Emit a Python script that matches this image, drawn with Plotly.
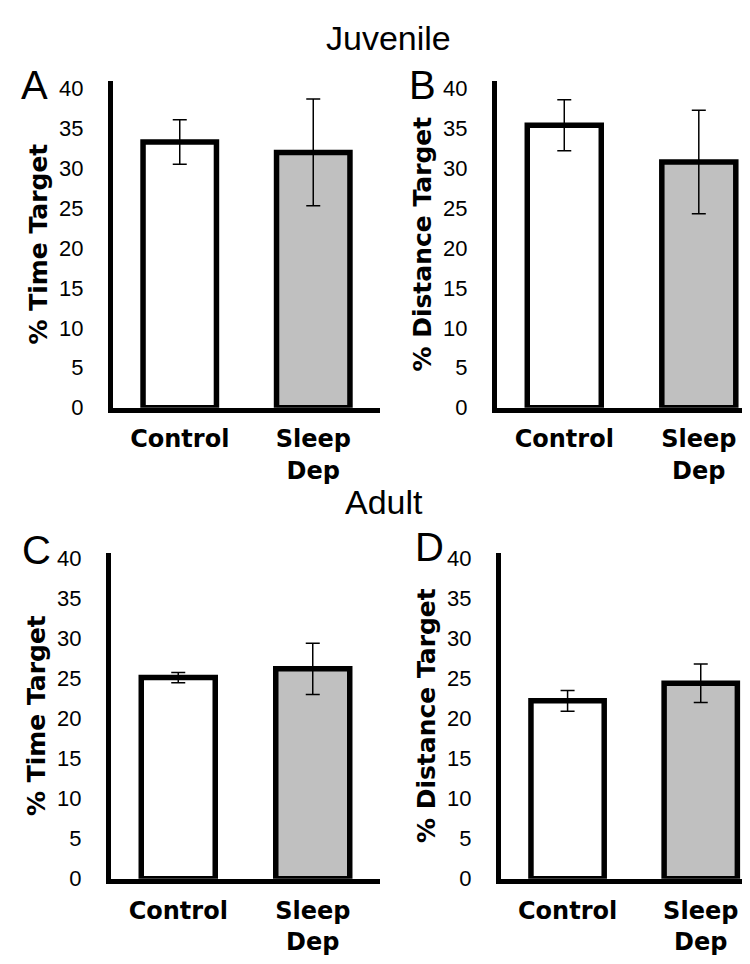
import plotly.graph_objects as go

W, H = 750, 964

categories = ["Control", "Sleep<br>Dep"]
bar_colors = ["#ffffff", "#c0c0c0"]
yticks = [0, 5, 10, 15, 20, 25, 30, 35, 40]

# Panel data (mean, error)
time_juv = [33.3, 32.0]
time_juv_err = [2.8, 6.7]
dist_juv = [35.4, 30.8]
dist_juv_err = [3.2, 6.5]
time_adult = [25.1, 26.2]
time_adult_err = [0.65, 3.2]
dist_adult = [22.2, 24.4]
dist_adult_err = [1.3, 2.4]

panels = [
    # values, errors, ytitle, x0px, x1px, xmax, y0px(bottom), y1px(top), ymax
    (time_juv, time_juv_err, "% Time Target", 105, 372, 1.5, 401, 67, 41.0),
    (dist_juv, dist_juv_err, "% Distance Target", 489, 750, 1.44, 401, 67, 41.0),
    (time_adult, time_adult_err, "% Time Target", 103, 372, 1.5, 882, 549, 40.7),
    (dist_adult, dist_adult_err, "% Distance Target", 493, 750, 1.43, 882, 549, 40.7),
]

fig = go.Figure()
layout = dict(
    width=W, height=H, margin=dict(l=0, r=0, t=0, b=0),
    paper_bgcolor="white", plot_bgcolor="white", showlegend=False,
    font=dict(family="Liberation Sans, Arial, sans-serif", color="black"),
)

for i, (vals, errs, ytitle, x0, x1, xmax, yb, yt, ymax) in enumerate(panels):
    n = "" if i == 0 else str(i + 1)
    fig.add_trace(go.Bar(
        x=[0, 1], y=vals,
        xaxis="x" + n, yaxis="y" + n,
        width=0.55,
        marker=dict(color=bar_colors, line=dict(color="black", width=5.5)),
        error_y=dict(type="data", array=errs, visible=True, color="black",
                     thickness=1.5, width=7),
    ))
    layout["xaxis" + n] = dict(
        domain=[x0 / W, x1 / W], range=[-0.5, xmax], anchor="y" + n,
        showline=True, linewidth=5, linecolor="black", ticks="",
        tickvals=[0, 1], ticktext=categories, showgrid=False, zeroline=False,
        tickfont=dict(family="DejaVu Sans", size=24, color="black", weight="bold"),
        ticklabelstandoff=6,
    )
    layout["yaxis" + n] = dict(
        domain=[(H - yb) / H, (H - yt) / H], range=[0, ymax], anchor="x" + n,
        showline=True, linewidth=5, linecolor="black", ticks="",
        tickvals=yticks, showgrid=False, zeroline=False,
        tickfont=dict(family="Liberation Sans", size=22, color="black"),
        ticklabelstandoff=20,
        title=dict(text=ytitle, standoff=6,
                   font=dict(family="DejaVu Sans", size=25, color="black", weight="bold")),
    )

fig.update_layout(**layout)

annots = [
    ("Juvenile", 380, 23, 34),
    ("Adult", 376, 497, 34),
    ("A", 27, 71, 40),
    ("B", 414, 71, 40),
    ("C", 28, 546, 40),
    ("D", 421, 543, 40),
]
for txt, x, y, s in annots:
    fig.add_annotation(text=txt, x=x / W, y=(H - y) / H, xref="paper", yref="paper",
                       showarrow=False, xanchor="center", yanchor="middle",
                       font=dict(family="Liberation Sans", size=s, color="black"))

fig.write_html("out.html")
